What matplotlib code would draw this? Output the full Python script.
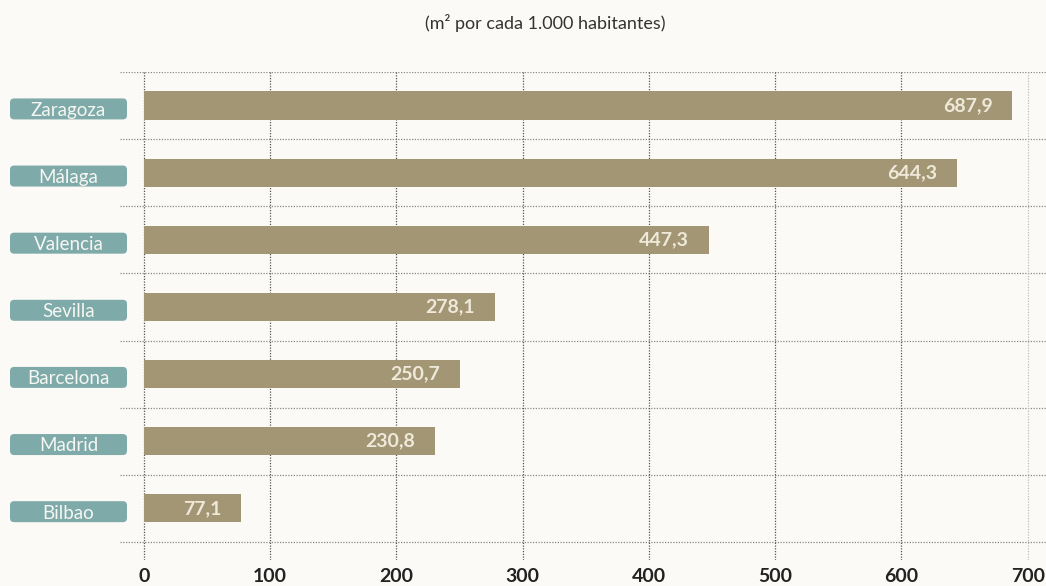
import matplotlib.pyplot as plt
import matplotlib.transforms as mtransforms
from matplotlib.patches import FancyBboxPatch

plt.rcParams['font.family'] = ['Lato', 'DejaVu Sans']

# data
cities = ["Zaragoza", "Málaga", "Valencia", "Sevilla", "Barcelona", "Madrid", "Bilbao"]
values = [687.9, 644.3, 447.3, 278.1, 250.7, 230.8, 77.1]
value_labels = ["687,9", "644,3", "447,3", "278,1", "250,7", "230,8", "77,1"]
xticks = [0, 100, 200, 300, 400, 500, 600, 700]

bg = "#FBFAF6"
bar_color = "#A39674"
teal = "#7EABAA"

W, H = 1046, 586
fig = plt.figure(figsize=(W / 100, H / 100), dpi=100, facecolor=bg)
# axes spans px x 120..1046, y 72..560
ax = fig.add_axes([120 / W, 1 - 560 / H, (W - 120) / W, (560 - 72) / H])
ax.set_facecolor(bg)

n = len(cities)
ypos = list(range(n))
ax.set_xlim(-19, 714.5)
ax.set_ylim(n - 0.5 + 0.27, -0.5)

# grid lines (drawn by hand so they can stick out of the plot area)
ax.hlines([k - 0.5 for k in range(n + 1)], -19, 714.5, colors="#8a8a8a",
          linestyles=(0, (1, 1.2)), linewidth=0.9, zorder=1)
for t in xticks:
    col = "#bdbdbd" if t == 700 else "#555555"
    ax.vlines(t, -0.5, n - 0.5 + 0.27, colors=col,
              linestyles=(0, (1, 1.2)), linewidth=0.9, zorder=1)

ax.barh(ypos, values, height=0.42, color=bar_color, zorder=2)

for y, v, lab in zip(ypos, values, value_labels):
    ax.annotate(lab, (v, y), xytext=(-20, 0), textcoords="offset pixels",
                ha="right", va="center", fontsize=14, fontweight="bold",
                color="#EFE9DA", zorder=3)

# teal category labels on the left
trans = mtransforms.blended_transform_factory(fig.transFigure, ax.transData)
bx0, bx1 = 10 / W, 127 / W
bh = 21 / 67.1
aspect = (1 / 67.1) / (1 / W)
for y, name in zip(ypos, cities):
    yc = y + 0.05
    box = FancyBboxPatch((bx0, yc - bh / 2), bx1 - bx0, bh,
                         boxstyle="round,pad=0,rounding_size=0.004",
                         mutation_aspect=aspect, transform=trans,
                         facecolor=teal, edgecolor="none", clip_on=False)
    ax.add_patch(box)
    ax.text((bx0 + bx1) / 2, yc + 0.02, name, transform=trans, ha="center",
            va="center", fontsize=13.5, color="#F6F6F2", clip_on=False)

ax.set_xticks(xticks)
ax.set_xticklabels([str(t) for t in xticks], fontsize=14, fontweight="bold",
                   color="#222222")
ax.tick_params(axis="x", length=0, pad=6)
ax.set_yticks([])
for s in ax.spines.values():
    s.set_visible(False)

fig.text(545 / W, 1 - 23 / H, "(m² por cada 1.000 habitantes)", ha="center",
         va="center", fontsize=13, color="#333333")

fig.savefig("out.png", dpi=100, facecolor=bg)
